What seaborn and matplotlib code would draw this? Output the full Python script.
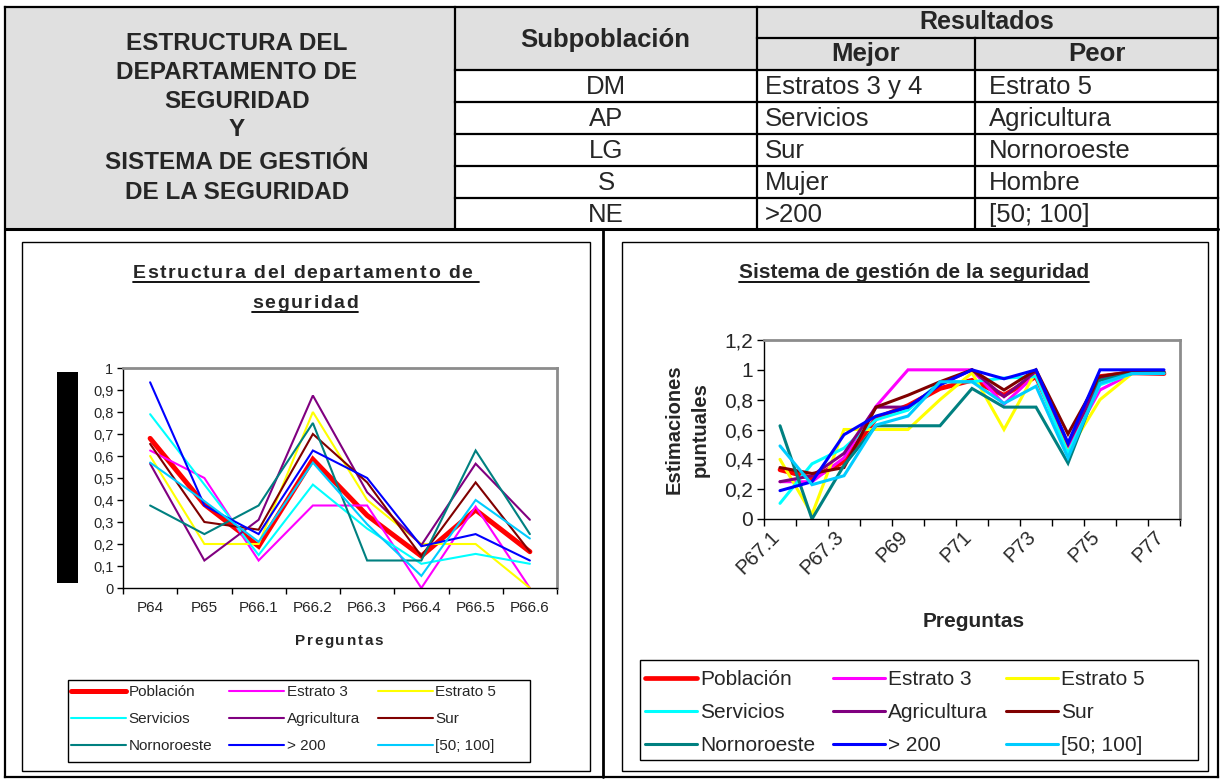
import numpy as np
import pandas as pd
import matplotlib
matplotlib.use("Agg")
import matplotlib.pyplot as plt
from matplotlib.patches import Rectangle
from matplotlib.ticker import FuncFormatter, FixedLocator
from matplotlib.font_manager import FontProperties
from matplotlib.transforms import ScaledTranslation
import seaborn as sns

sns.set_theme(style="white")
plt.rcParams["font.family"] = ["Liberation Sans", "DejaVu Sans"]

# ---------------- data ----------------
series_names = ["Población", "Estrato 3", "Estrato 5", "Servicios", "Agricultura",
                "Sur", "Nornoroeste", "> 200", "[50; 100]"]
series_colors = ["#FF0000", "#FF00FF", "#FFFF00", "#00FFFF", "#800080",
                 "#800000", "#008080", "#0000FF", "#00CCFF"]

# Estructura del departamento de seguridad
preguntas_dep = ["P64", "P65", "P66.1", "P66.2", "P66.3", "P66.4", "P66.5", "P66.6"]
poblacion_dep = [0.68, 0.38, 0.19, 0.585, 0.33, 0.145, 0.355, 0.165]
estrato3_dep = [0.625, 0.50, 0.125, 0.375, 0.375, 0.0, 0.37, 0.0]
estrato5_dep = [0.60, 0.20, 0.20, 0.80, 0.40, 0.20, 0.20, 0.0]
servicios_dep = [0.79, 0.47, 0.15, 0.47, 0.27, 0.11, 0.155, 0.11]
agricultura_dep = [0.565, 0.125, 0.31, 0.875, 0.435, 0.195, 0.565, 0.31]
sur_dep = [0.655, 0.30, 0.265, 0.70, 0.48, 0.145, 0.48, 0.165]
nornoroeste_dep = [0.375, 0.245, 0.375, 0.75, 0.125, 0.125, 0.625, 0.245]
mas200_dep = [0.935, 0.375, 0.245, 0.625, 0.50, 0.19, 0.245, 0.125]
r50_100_dep = [0.57, 0.395, 0.21, 0.57, 0.29, 0.055, 0.40, 0.225]

# Sistema de gestión de la seguridad
preguntas_sg = ["P67.1", "P67.2", "P67.3", "P68", "P69", "P70", "P71", "P72",
                "P73", "P74", "P75", "P76", "P77"]
poblacion_sg = [0.33, 0.275, 0.385, 0.675, 0.76, 0.875, 0.93, 0.83, 0.955, 0.485, 0.955, 0.98, 0.975]
estrato3_sg = [0.25, 0.25, 0.41, 0.755, 1.0, 1.0, 1.0, 0.77, 0.97, 0.475, 0.865, 0.975, 0.98]
estrato5_sg = [0.40, 0.03, 0.60, 0.60, 0.60, 0.80, 0.98, 0.60, 0.99, 0.45, 0.80, 0.975, 0.98]
servicios_sg = [0.105, 0.37, 0.475, 0.665, 0.73, 0.92, 0.92, 0.945, 0.955, 0.44, 0.90, 0.975, 0.98]
agricultura_sg = [0.25, 0.29, 0.44, 0.75, 0.75, 0.90, 1.0, 0.82, 0.99, 0.50, 0.935, 0.995, 0.985]
sur_sg = [0.345, 0.305, 0.345, 0.75, 0.83, 0.92, 1.0, 0.865, 1.0, 0.57, 0.955, 0.99, 0.985]
nornoroeste_sg = [0.625, 0.0, 0.36, 0.625, 0.625, 0.625, 0.875, 0.75, 0.75, 0.375, 0.93, 0.975, 0.98]
mas200_sg = [0.19, 0.25, 0.565, 0.69, 0.75, 0.90, 1.0, 0.94, 1.0, 0.51, 1.0, 1.0, 1.0]
r50_100_sg = [0.49, 0.23, 0.29, 0.63, 0.69, 0.92, 0.92, 0.775, 0.89, 0.41, 0.91, 0.975, 0.975]

# Summary table
tabla_subpob = ["DM", "AP", "LG", "S", "NE"]
tabla_mejor = ["Estratos 3 y 4", "Servicios", "Sur", "Mujer", ">200"]
tabla_peor = ["Estrato 5", "Agricultura", "Nornoroeste", "Hombre", "[50; 100]"]
titulo_tabla = ["ESTRUCTURA DEL", "DEPARTAMENTO DE", "SEGURIDAD", "Y",
                "SISTEMA DE GESTIÓN", "DE LA SEGURIDAD"]

dep_values = [poblacion_dep, estrato3_dep, estrato5_dep, servicios_dep, agricultura_dep,
              sur_dep, nornoroeste_dep, mas200_dep, r50_100_dep]
sg_values = [poblacion_sg, estrato3_sg, estrato5_sg, servicios_sg, agricultura_sg,
             sur_sg, nornoroeste_sg, mas200_sg, r50_100_sg]

W, H = 1221, 779
fig = plt.figure(figsize=(W / 100, H / 100), dpi=100)
fig.patch.set_facecolor("white")


def px_axes(x0, y0, x1, y1):
    """Axes placed by pixel box (top-left origin)."""
    return fig.add_axes([x0 / W, 1 - y1 / H, (x1 - x0) / W, (y1 - y0) / H])


# background canvas in pixel units for the table and frames
bg = fig.add_axes([0, 0, 1, 1], zorder=-5)
bg.set_xlim(0, W)
bg.set_ylim(H, 0)
bg.axis("off")

GRAY = "#e0e0e0"
bg.add_patch(Rectangle((5, 7), 450, 222, color=GRAY, lw=0))
bg.add_patch(Rectangle((455, 7), 302, 63, color=GRAY, lw=0))
bg.add_patch(Rectangle((757, 7), 461, 63, color=GRAY, lw=0))

lk = dict(color="black", lw=1.6, solid_capstyle="projecting")
bg.plot([5, 1218], [7, 7], **lk)
bg.plot([757, 1218], [38, 38], **lk)
bg.plot([455, 1218], [70, 70], **lk)
for yy in [102, 134, 166, 198]:
    bg.plot([455, 1218], [yy, yy], **lk)
bg.plot([5, 1218], [229, 229], color="black", lw=2.2)
bg.plot([5, 5], [7, 777], **lk)
bg.plot([1218, 1218], [7, 777], **lk)
bg.plot([455, 455], [7, 229], **lk)
bg.plot([757, 757], [7, 229], **lk)
bg.plot([975, 975], [38, 229], **lk)
bg.plot([603, 603], [229, 777], color="black", lw=2.0)
bg.plot([5, 1218], [777, 777], **lk)

# chart area borders
bg.add_patch(Rectangle((22, 242), 568, 529, fill=False, ec="black", lw=1))
bg.add_patch(Rectangle((622, 242), 586, 529, fill=False, ec="black", lw=1))

# table text
for i, t in enumerate(titulo_tabla):
    yy = [43, 72, 101, 129, 162, 192][i]
    bg.text(237, yy, t, ha="center", va="center", fontsize=17.5, fontweight="bold")
bg.text(605, 40, "Subpoblación", ha="center", va="center", fontsize=18.5, fontweight="bold")
bg.text(987, 22, "Resultados", ha="center", va="center", fontsize=18, fontweight="bold")
bg.text(866, 54, "Mejor", ha="center", va="center", fontsize=18.5, fontweight="bold")
bg.text(1097, 54, "Peor", ha="center", va="center", fontsize=18.5, fontweight="bold")
for i in range(len(tabla_subpob)):
    yy = 87 + 32 * i
    bg.text(606, yy, tabla_subpob[i], ha="center", va="center", fontsize=18.5)
    bg.text(765, yy, tabla_mejor[i], ha="left", va="center", fontsize=18.5)
    bg.text(989, yy, tabla_peor[i], ha="left", va="center", fontsize=18.5)

renderer = fig.canvas.get_renderer()


def spaced_text(x, y, s, size, track, weight="normal", underline=False, ul_off=3):
    """Draw centred text with extra letter spacing (pixel coordinates)."""
    fp = FontProperties(family="Liberation Sans", weight=weight, size=size)
    ref = renderer.get_text_width_height_descent("x", fp, ismath=False)[0]
    offs = []
    for k in range(len(s)):
        pre = s[:k] + "x"
        w = renderer.get_text_width_height_descent(pre, fp, ismath=False)[0] - ref
        offs.append(w + k * track)
    total = renderer.get_text_width_height_descent(s + "x", fp, ismath=False)[0] - ref
    total += (len(s) - 1) * track
    x0 = x - total / 2
    if track == 0:
        bg.text(x0, y, s, ha="left", va="baseline", fontsize=size, fontweight=weight)
    else:
        for ch, o in zip(s, offs):
            if ch != " ":
                bg.text(x0 + o, y, ch, ha="left", va="baseline", fontsize=size,
                        fontweight=weight)
    if underline:
        bg.plot([x0, x0 + total], [y + ul_off, y + ul_off], color="black", lw=1.3)


# ---------------- left chart ----------------
spaced_text(306, 278, "Estructura del departamento de ", 14, 1.6, "bold", True, 4)
spaced_text(305, 308, "seguridad", 14, 1.6, "bold", True, 4)
spaced_text(339, 645, "Preguntas", 11, 1.6, "bold")
bg.add_patch(Rectangle((57, 372), 21, 211, color="black", lw=0))


def dec_fmt(v, _):
    s = f"{v:.1f}".rstrip("0").rstrip(".")
    return s.replace(".", ",")


def draw_lines(ax, cats, values, thick, thin):
    for name, col, vals in zip(series_names, series_colors, values):
        df = pd.DataFrame({"pos": np.arange(len(cats)), "valor": vals})
        lw = thick if name == "Población" else thin
        sns.lineplot(data=df, x="pos", y="valor", color=col, linewidth=lw,
                     ax=ax, label=name, legend=False, solid_joinstyle="miter")
    return ax.get_lines()


def style_axes(ax, n, ymax, ystep, lab_size, ticklen):
    ax.set_xlim(-0.5, n - 0.5)
    ax.set_ylim(0, ymax)
    ax.set_facecolor("white")
    for side in ["top", "right"]:
        ax.spines[side].set_color("#8c8c8c")
        ax.spines[side].set_linewidth(2)
    for side in ["left", "bottom"]:
        ax.spines[side].set_color("black")
        ax.spines[side].set_linewidth(1)
    ax.set_yticks(np.round(np.arange(0, ymax + 1e-9, ystep), 2))
    ax.yaxis.set_major_formatter(FuncFormatter(dec_fmt))
    ax.xaxis.set_major_locator(FixedLocator(np.arange(-0.5, n, 1.0)))
    ax.xaxis.set_major_formatter(FuncFormatter(lambda v, _: ""))
    ax.tick_params(axis="both", which="major", direction="out", length=ticklen,
                   width=1, color="black", left=True, bottom=True,
                   labelsize=lab_size, pad=3)
    ax.tick_params(axis="x", which="minor", length=0, labelsize=lab_size)
    ax.set_xlabel("")
    ax.set_ylabel("")
    ax.grid(False)


order = [0, 3, 6, 1, 4, 7, 2, 5, 8]

ax1 = px_axes(123, 368, 557, 588)
h1 = draw_lines(ax1, preguntas_dep, dep_values, thick=3.6, thin=1.5)
style_axes(ax1, len(preguntas_dep), 1.0, 0.1, 10.5, 4)
ax1.xaxis.set_minor_locator(FixedLocator(np.arange(len(preguntas_dep))))
ax1.set_xticklabels(preguntas_dep, minor=True)
ax1.tick_params(axis="x", which="minor", pad=9, labelsize=11)

bg.add_patch(Rectangle((68, 680), 462, 82, fill=False, ec="black", lw=1))
fig.legend([h1[i] for i in order], [series_names[i] for i in order],
           loc="upper left", bbox_to_anchor=(71 / W, 1 - 685 / H),
           ncol=3, fontsize=11, frameon=False, handlelength=3.6,
           handletextpad=0.15, labelspacing=0.85, columnspacing=1.15,
           borderpad=0, borderaxespad=0)

# ---------------- right chart ----------------
spaced_text(914, 278, "Sistema de gestión de la seguridad", 15, 0, "bold", True, 4)

ax2 = px_axes(764, 340, 1180, 519)
h2 = draw_lines(ax2, preguntas_sg, sg_values, thick=3.4, thin=2.2)
style_axes(ax2, len(preguntas_sg), 1.2, 0.2, 15, 5)
ax2.xaxis.set_minor_locator(FixedLocator(np.arange(0, len(preguntas_sg), 2)))
ax2.set_xticklabels(preguntas_sg[::2], minor=True, rotation=45, ha="right",
                    va="top", rotation_mode="anchor")
ax2.tick_params(axis="x", which="minor", pad=6, labelsize=14.5)
shift = ScaledTranslation(-10 / 100, 0, fig.dpi_scale_trans)
for lab in ax2.get_xticklabels(minor=True):
    lab.set_transform(lab.get_transform() + shift)
ax2.set_ylabel("Estimaciones\npuntuales", fontsize=14.5, fontweight="bold",
               linespacing=1.5)
ax2.yaxis.set_label_coords(-0.13, 0.5)
ax2.set_xlabel("Preguntas", fontsize=15, fontweight="bold")
ax2.xaxis.set_label_coords(0.505, -0.52)

bg.add_patch(Rectangle((640, 660), 558, 100, fill=False, ec="black", lw=1))
fig.legend([h2[i] for i in order], [series_names[i] for i in order],
           loc="upper left", bbox_to_anchor=(645 / W, 1 - 670 / H),
           ncol=3, fontsize=15, frameon=False, handlelength=2.5,
           handletextpad=0.15, labelspacing=0.68, columnspacing=0.85,
           borderpad=0, borderaxespad=0)

fig.savefig("out.png", dpi=100, facecolor="white")
